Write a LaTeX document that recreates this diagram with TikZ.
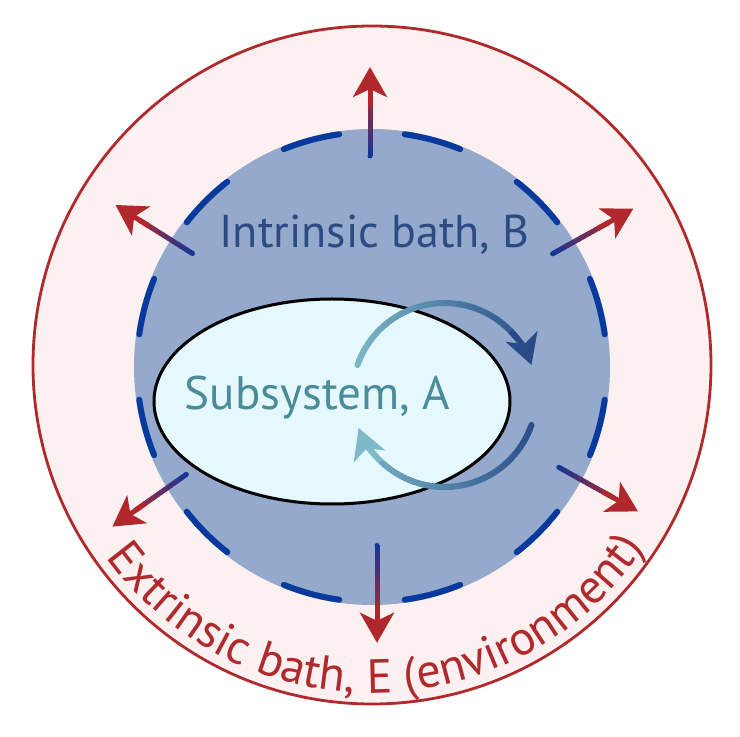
\documentclass[tikz,border=0pt]{standalone}
\usepackage{fontspec}
\setmainfont{PT Sans}
\usetikzlibrary{arrows.meta,calc,decorations.text}
\definecolor{outerfill}{HTML}{FDF0F0}
\definecolor{outerred}{HTML}{B0292D}
\definecolor{bathblue}{HTML}{94A9CC}
\definecolor{dashblue}{RGB}{8,58,158}
\definecolor{shaftblue}{RGB}{22,52,150}
\definecolor{shaftred}{RGB}{172,40,48}
\definecolor{headred}{HTML}{B0282C}
\definecolor{textB}{HTML}{2D4B82}
\definecolor{textA}{HTML}{4B8C9B}
\definecolor{ellfill}{HTML}{E4F8FD}
\definecolor{arclight}{HTML}{7DB9C8}
\definecolor{arcdark}{HTML}{284B87}
\newcommand{\radarrow}[2]{%
  \coordinate (#1e) at ($(#2)!28pt!(#1)$);
  \coordinate (#1h) at ($(#2)!40pt!(#1)$);
  \foreach \i in {0,...,19}{%
    \pgfmathtruncatemacro\p{\i*5+2}%
    \pgfmathsetmacro\fa{\i/20}%
    \pgfmathsetmacro\fb{min(1,(\i+1.4)/20)}%
    \draw[shaftseg, draw=shaftred!\p!shaftblue] ($(#1)!\fa!(#1e)$) -- ($(#1)!\fb!(#1e)$);
  }
  \fill[shaftblue] (#1) circle[radius=2.5pt];
  \draw[redhead] (#1h) -- (#2);
}
\begin{document}
\begin{tikzpicture}[x=1pt,y=1pt,
  outercircle/.style={draw=outerred, fill=outerfill, line width=2.8pt},
  bathdash/.style={draw=dashblue, line width=6pt, line cap=round},
  shaftseg/.style={line width=5pt, line cap=butt},
  redhead/.style={draw=headred, fill=headred, line width=5pt, -{Stealth[length=30pt,width=34pt,inset=8pt]}},
  arcseg/.style={line width=6pt, line cap=round},
  lbl/.style={inner sep=0pt, anchor=base}
]
\useasboundingbox (0,0) rectangle (740,737);
\fill[white] (0,0) rectangle (740,737);
\coordinate (O) at (372,372);
\coordinate (C) at (372,370);
\draw[outercircle] (O) circle[radius=339];
\fill[bathblue] (C) circle[radius=238];
\foreach \a in {15,45,...,345}
  \draw[bathdash] ($(C)+(\a-7:235)$) arc[start angle=\a-7, end angle=\a+7, radius=235];

% outward arrows
\coordinate (s1) at (370,581);   \coordinate (t1) at (370,670);
\coordinate (s2) at (552.6,483.2); \coordinate (t2) at (633.3,528.3);
\coordinate (s3) at (192.5,483.5); \coordinate (t3) at (115.5,532);
\coordinate (s4) at (558.8,269.7); \coordinate (t4) at (638,225.6);
\coordinate (s5) at (186.4,262.6); \coordinate (t5) at (112.4,210.4);
\coordinate (s6) at (377,191.5);   \coordinate (t6) at (377,94.2);
\radarrow{s1}{t1}
\radarrow{s2}{t2}
\radarrow{s3}{t3}
\radarrow{s4}{t4}
\radarrow{s5}{t5}
\radarrow{s6}{t6}

% subsystem ellipse
\fill[ellfill] (332,335.5) ellipse[x radius=178, y radius=102.5];
\draw[black, line width=3pt] (332,335.5) ellipse[x radius=178, y radius=102.5];

% labels
\node[lbl, text=textB, font=\fontsize{46}{54}\selectfont] (B) at (374.5,489.4) {Intrinsic bath, B};
\node[lbl, text=textA, font=\fontsize{47}{55}\selectfont] (A) at (317.5,327) {Subsystem, A};

% circulating arrows
\coordinate (R) at (444.5,342);
\foreach \a in {161,158,...,41}{%
  \pgfmathtruncatemacro\p{(cos(\a-1.5)+1)*50}%
  \draw[arcseg, draw=arcdark!\p!arclight] ($(R)+(\a:92)$) arc[start angle=\a, end angle=\a-3.5, radius=92];
}
\draw[line width=6pt, draw=arcdark, fill=arcdark, -{Stealth[length=30pt,width=33pt,inset=8pt]}] ($(R)+(44:92)$) arc[start angle=44, end angle=19, radius=92];
\foreach \a in {-19,-22,...,-131}{%
  \pgfmathtruncatemacro\p{(cos(\a-1.5)+1)*50}%
  \draw[arcseg, draw=arcdark!\p!arclight] ($(R)+(\a:92)$) arc[start angle=\a, end angle=\a-3.5, radius=92];
}
\draw[line width=6pt, draw=arclight, fill=arclight, -{Stealth[length=30pt,width=33pt,inset=8pt]}] ($(R)+(-134:92)$) arc[start angle=-134, end angle=-159, radius=92];

% extrinsic label along circle
\path[decorate, decoration={text along path, text align=center,
  text format delimiters={|}{|},
  text={|\fontsize{48}{56}\selectfont\color{outerred}|Extrinsic bath, E (environment)}}]
  ($(O)+(196:328)$) arc[start angle=196, end angle=346, radius=328];
\end{tikzpicture}
\end{document}
